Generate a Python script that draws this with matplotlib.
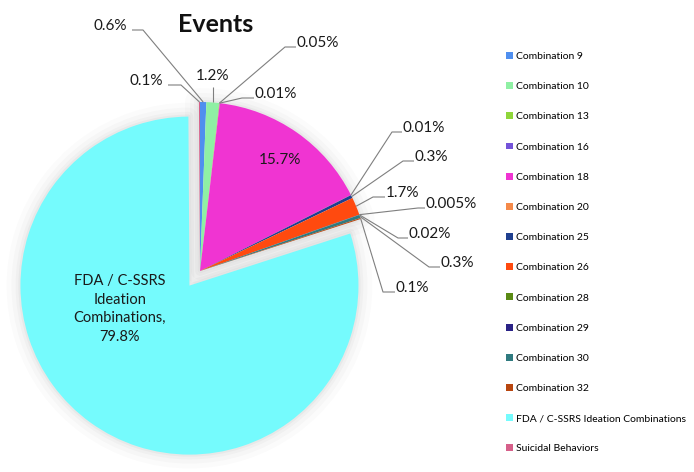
import numpy as np
import matplotlib.pyplot as plt
from matplotlib.patches import Wedge

plt.rcParams['font.family'] = ['Lato', 'DejaVu Sans']

categories = ['Combination 9', 'Combination 10', 'Combination 13', 'Combination 16',
              'Combination 18', 'Combination 20', 'Combination 25', 'Combination 26',
              'Combination 28', 'Combination 29', 'Combination 30', 'Combination 32',
              'FDA / C-SSRS Ideation Combinations', 'Suicidal Behaviors']
values = [0.6, 1.2, 0.05, 0.01, 15.7, 0.01, 0.3, 1.7, 0.005, 0.02, 0.3, 0.1, 79.8, 0.1]
colors = ['#4f8fef', '#8ff0a4', '#8fd63a', '#7453d9', '#f034d2', '#f58a4a', '#1f3f8f',
          '#ff4a0f', '#5a8a14', '#2a2286', '#2f7a7f', '#b8460f', '#75fbfd', '#d6608a']

W, H = 694, 472
fig = plt.figure(figsize=(W / 100, H / 100), dpi=100)
ax = fig.add_axes([0, 0, 1, 1])


def px(x, y):
    # picture pixels (y down) -> data coords (y up)
    return x, H - y


center = px(200, 271)
R = 169
explode = [0] * 12 + [18, 0]

wedges, _ = ax.pie(values, colors=colors, startangle=90, counterclock=False,
                   radius=R, center=center, explode=explode,
                   wedgeprops=dict(linewidth=0, zorder=2))

# soft shadow behind the two pieces of the pie
fda = wedges[12]
shadow_parts = [(center, fda.theta2, fda.theta1 + 360), (fda.center, fda.theta1, fda.theta2)]
for c, t1, t2 in shadow_parts:
    for lw, a in [(20, 0.015), (13, 0.02), (7, 0.025), (3, 0.03)]:
        ax.add_patch(Wedge(c, R, t1, t2, facecolor='none', edgecolor='black',
                           linewidth=lw, alpha=a, joinstyle='round', zorder=1))

# outside labels: text x, text y (centre), alignment, knee x
label_layout = {
    0: (127, 26, 'right', 143),
    1: (213, 76, 'center', None),
    2: (297, 43, 'left', 285),
    3: (255, 94, 'left', 242),
    5: (403, 128, 'left', 392),
    6: (415, 157, 'left', 403),
    7: (386, 193, 'left', 373),
    8: (426, 204, 'left', 418),
    9: (409, 234, 'left', 398),
    10: (441, 263, 'left', 429),
    11: (396, 288, 'left', 383),
    13: (163, 81, 'right', 181),
}

line_col = '#7f7f7f'
for i, (tx, ty, ha, kx) in label_layout.items():
    w = wedges[i]
    thm = np.deg2rad((w.theta1 + w.theta2) / 2)
    ancx = w.center[0] + R * np.cos(thm)
    ancy = w.center[1] + R * np.sin(thm)
    txt = f'{values[i]:g}%'
    if kx is None:
        xs = [ancx, ancx]
        ys = [ancy, px(0, ty + 11)[1]]
        ax.text(*px(tx, ty), txt, ha='center', va='center', fontsize=11, color='#1a1a1a')
    else:
        ly = px(0, ty + 4)[1]
        end = tx + 5 if ha == 'right' else tx - 1
        xs = [ancx, kx, end]
        ys = [ancy, ly, ly]
        ax.text(*px(tx, ty), txt, ha=ha, va='center', fontsize=11, color='#1a1a1a')
    ax.plot(xs, ys, color=line_col, lw=0.8, zorder=3, solid_capstyle='butt')

# inside labels
ax.text(*px(280, 160), f'{values[4]:g}%', ha='center', va='center', fontsize=11,
        color='#1a1a1a', zorder=4)
ax.text(*px(120, 309), 'FDA / C-SSRS\nIdeation\nCombinations,\n' + f'{values[12]:g}%',
        ha='center', va='center', fontsize=10.5, color='#1a1a1a', linespacing=1.4, zorder=4)

ax.text(*px(216, 24), 'Events', ha='center', va='center', fontsize=18,
        fontweight='bold', color='#111111')

ax.legend(wedges, categories, loc='upper left', bbox_to_anchor=(506 / W, 1 - 52 / H),
          frameon=False, fontsize=7.5, handlelength=0.65, handleheight=0.65,
          handletextpad=0.35, labelspacing=2.02, borderpad=0, borderaxespad=0)

ax.set_xlim(0, W)
ax.set_ylim(0, H)
ax.set_aspect('auto')
ax.axis('off')

plt.savefig('out.png', dpi=100)
